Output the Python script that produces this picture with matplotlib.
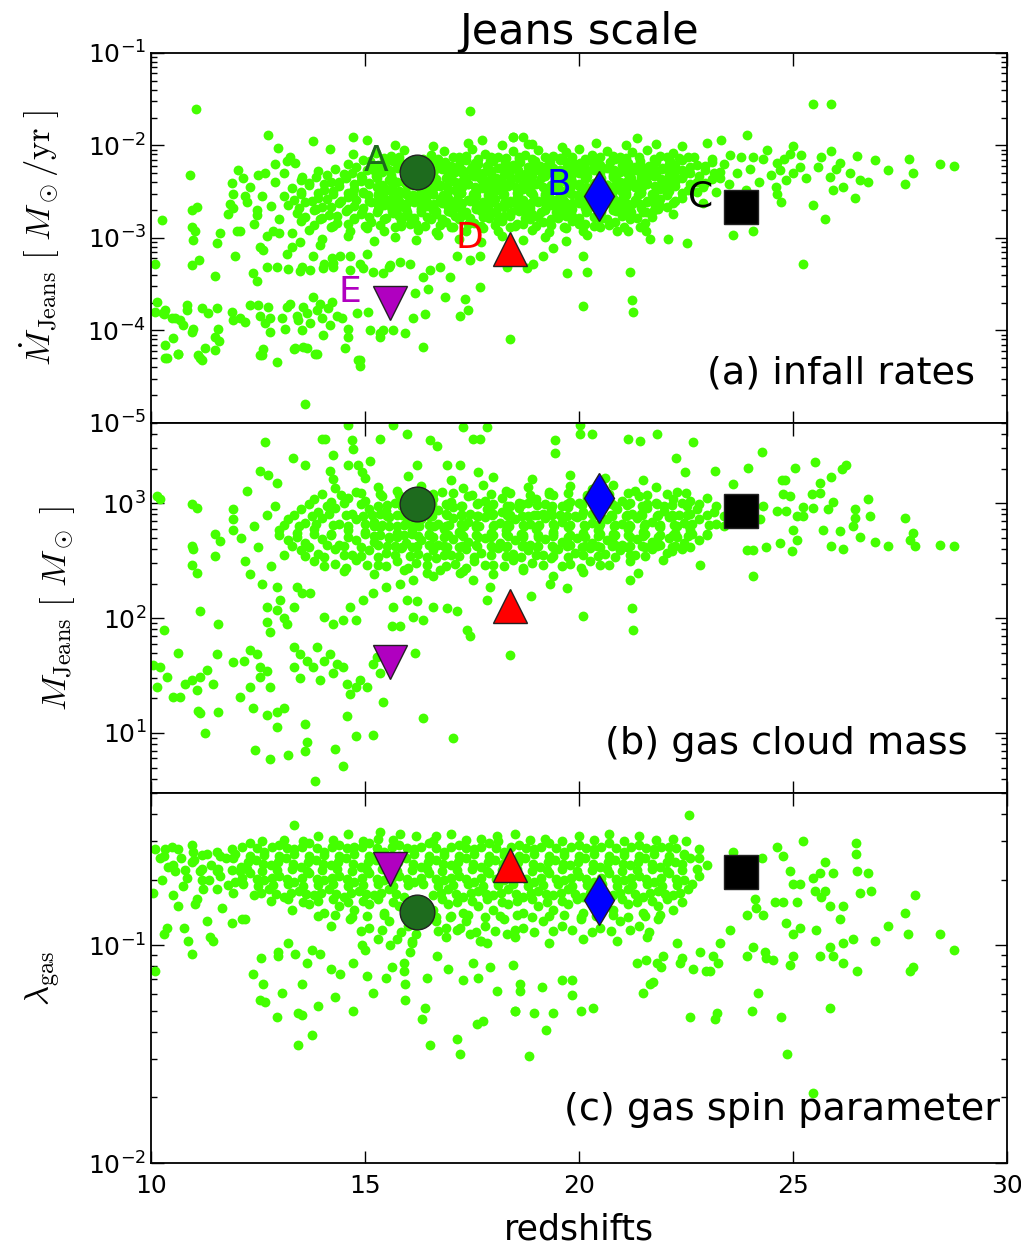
import numpy as np
import matplotlib
matplotlib.use("Agg")
import matplotlib.pyplot as plt
from matplotlib.ticker import NullFormatter, LogLocator

plt.rcParams['mathtext.fontset'] = 'cm'
plt.rcParams['font.family'] = ['DejaVu Sans']

# (redshift, log10 Mdot_Jeans [Msun/yr]) for every halo
infall = [
    (11.05, -1.61), (12.74, -1.89), (12.97, -2.03), (13.79, -1.95), (14.17, -2.04), (14.73, -1.91),
    (15.04, -1.94), (14.71, -2.09), (17.45, -1.63), (17.73, -1.94), (18.47, -1.91), (13.25, -2.12),
    (13.36, -2.19), (13.17, -2.17), (13.52, -2.34), (12.02, -2.27), (10.91, -2.32), (11.88, -2.41),
    (11.92, -2.52), (12.50, -2.32), (12.66, -2.30), (11.85, -2.63), (11.92, -2.68), (11.80, -2.74),
    (12.24, -2.61), (12.47, -2.70), (12.47, -2.75), (10.95, -2.70), (11.07, -2.66), (10.25, -2.81),
    (10.95, -2.88), (11.03, -2.92), (10.99, -3.02), (10.95, -3.29), (11.13, -3.24), (10.09, -3.28),
    (11.50, -3.41), (11.61, -2.95), (11.53, -3.05), (12.00, -2.92), (12.08, -2.92), (11.96, -3.19),
    (12.39, -3.38), (12.47, -3.46), (12.55, -3.10), (12.62, -3.13), (12.71, -3.31), (12.94, -3.31),
    (12.86, -2.92), (12.98, -2.95), (13.17, -3.17), (13.29, -3.10), (13.48, -3.04), (13.52, -3.31),
    (13.71, -3.35), (13.79, -3.20), (13.95, -3.08), (14.03, -3.28), (14.22, -3.22), (14.26, -3.31),
    (14.42, -3.20), (13.20, -3.34), (13.48, -3.36), (14.02, -3.32), (14.25, -3.27), (14.65, -3.35),
    (14.95, -3.32), (15.19, -3.37), (15.42, -3.38), (15.58, -3.29),
    (10.14, -3.69), (10.33, -3.78), (10.28, -3.81), (10.56, -3.87), (10.68, -3.89), (10.75, -3.94),
    (10.84, -3.73), (10.84, -3.78), (10.98, -3.98), (10.96, -4.02), (11.19, -3.76), (11.33, -3.81),
    (11.54, -3.76), (11.89, -3.80), (11.92, -3.89), (12.08, -3.87), (12.20, -3.91), (12.31, -3.73),
    (12.50, -3.73), (12.55, -3.84), (12.66, -3.92), (12.73, -3.75), (12.78, -3.87), (12.78, -4.02),
    (13.06, -3.87), (13.13, -3.98), (13.18, -3.75), (13.25, -3.71), (13.41, -3.84), (13.43, -3.89),
    (13.53, -4.00), (13.55, -3.75), (13.64, -3.81), (13.71, -3.92), (13.78, -3.64), (13.87, -3.78),
    (13.95, -3.71), (13.99, -3.87), (14.02, -4.05), (14.13, -3.76), (14.23, -3.69), (14.18, -3.94),
    (14.35, -3.84), (14.46, -3.87), (14.60, -3.98), (14.60, -4.07), (14.81, -3.81), (15.07, -3.80),
    (15.12, -4.00), (15.35, -4.07), (15.42, -4.00), (10.09, -3.80), (10.29, -3.82), (10.48, -3.87),
    (10.51, -4.08), (10.33, -4.16), (10.63, -4.25), (10.33, -4.30), (11.26, -4.19), (11.10, -4.27),
    (11.19, -4.32), (11.50, -4.07), (11.57, -3.98), (12.59, -4.27), (12.94, -4.34), (13.36, -4.19),
    (13.64, -4.19), (13.87, -4.25), (14.53, -4.19), (14.88, -4.32), (10.37, -4.30), (10.64, -4.25),
    (11.14, -4.30), (11.50, -4.21), (11.58, -4.11), (12.55, -4.27), (12.62, -4.20), (13.33, -4.20),
    (13.56, -4.18), (13.83, -4.25), (14.84, -4.32), (14.88, -4.38), (15.35, -4.03), (15.66, -4.00),
    (16.36, -4.18), (15.93, -4.03), (13.60, -4.80), (18.39, -4.09),
    (16.13, -3.87), (16.40, -3.82), (16.48, -3.55), (16.17, -3.60), (17.22, -3.84), (17.41, -3.78),
    (17.33, -3.66), (17.69, -3.53), (16.87, -3.64), (14.88, -3.28), (15.04, -3.17), (14.65, -3.20),
    (15.55, -3.31), (15.82, -3.26), (16.05, -3.28), (16.36, -3.42), (16.52, -3.35), (16.76, -3.31),
    (16.99, -3.42), (17.15, -3.20), (17.46, -3.24), (17.69, -3.20),
    (25.47, -1.55), (25.89, -1.55), (21.35, -1.92), (23.33, -1.94), (23.93, -1.89), (18.46, -1.91),
    (18.70, -1.91), (18.82, -1.98), (25.01, -2.01), (24.93, -2.09), (25.89, -2.06), (26.49, -2.11),
    (26.92, -2.16), (27.72, -2.15), (27.81, -2.30), (28.43, -2.20), (28.76, -2.22), (27.23, -2.27),
    (27.62, -2.42), (26.76, -2.40), (26.45, -2.57), (25.94, -2.48), (25.75, -2.79), (25.47, -2.64),
    (25.24, -3.28), (26.10, -2.19), (26.33, -2.30), (26.57, -2.37), (26.18, -2.45), (25.59, -2.23),
    (25.67, -2.12), (25.86, -2.34), (26.02, -2.25), (23.53, -2.10), (24.07, -2.12), (24.62, -2.19),
    (24.70, -2.27), (24.62, -2.52), (24.73, -2.61), (25.01, -2.30), (25.16, -2.23), (24.85, -2.37),
    (23.60, -2.97), (24.07, -2.93), (20.10, -3.19), (20.18, -3.37), (19.71, -3.38), (20.10, -3.74),
    (21.19, -3.37), (21.23, -3.67), (21.27, -3.80), (19.40, -3.11), (19.17, -3.20), (18.93, -3.28),
    (18.78, -3.33), (18.31, -3.31), (21.66, -3.01), (22.09, -3.01), (22.52, -3.05), (21.15, -2.92),
    (21.43, -2.88), (21.58, -2.93),
    (12.30, -2.45), (12.60, -2.55), (12.90, -2.40), (12.80, -2.65), (13.00, -2.80), (12.40, -2.85),
    (12.70, -2.98), (13.10, -2.30), (12.90, -2.20), (12.20, -2.55), (13.30, -2.95), (12.15, -2.35),
    # dense core
    (15.25, -2.08), (15.60, -2.11), (15.90, -2.05), (16.55, -2.10), (16.85, -2.06), (17.20, -2.12),
    (17.50, -2.04), (17.80, -2.09), (18.10, -2.12), (18.45, -2.06), (18.75, -2.10), (19.05, -2.05),
    (19.40, -2.11), (19.70, -2.07), (20.00, -2.04), (20.30, -2.10), (20.65, -2.06), (20.95, -2.12),
    (21.25, -2.07), (21.60, -2.05), (21.90, -2.11), (22.20, -2.08), (22.55, -2.13),
    (15.45, -2.14), (15.80, -2.12), (16.70, -2.15), (17.05, -2.13), (17.35, -2.11), (17.65, -2.15),
    (17.95, -2.13), (18.30, -2.14), (18.60, -2.12), (18.90, -2.15), (19.20, -2.13), (19.55, -2.14),
    (19.85, -2.12), (20.15, -2.15), (20.50, -2.13), (20.80, -2.11), (21.10, -2.14), (21.40, -2.12),
    (21.75, -2.15), (22.05, -2.13), (22.35, -2.14), (22.70, -2.12),
    (15.12, -2.17), (15.47, -2.18), (15.82, -2.175), (16.52, -2.17), (16.87, -2.18), (17.22, -2.17),
    (17.57, -2.185), (17.92, -2.17), (18.27, -2.18), (18.62, -2.175), (18.97, -2.17), (19.32, -2.18),
    (19.67, -2.17), (20.02, -2.185), (20.37, -2.17), (20.72, -2.18), (21.07, -2.175), (21.42, -2.17),
    (21.77, -2.18), (22.12, -2.17),
    (14.60, -2.20), (14.95, -2.16), (15.30, -2.21), (15.65, -2.17), (16.00, -2.20), (16.35, -2.15),
    (16.70, -2.19), (17.00, -2.22), (17.35, -2.16), (17.65, -2.20), (18.00, -2.17), (18.30, -2.21),
    (18.60, -2.15), (18.95, -2.19), (19.25, -2.22), (19.55, -2.16), (19.90, -2.20), (20.20, -2.17),
    (20.50, -2.21), (20.85, -2.15), (21.15, -2.19), (21.45, -2.22), (21.80, -2.17), (22.10, -2.20),
    (22.40, -2.16), (22.75, -2.21), (23.10, -2.18),
    (14.80, -2.23), (15.15, -2.22), (15.50, -2.24), (15.85, -2.21), (16.20, -2.23), (16.55, -2.22),
    (16.85, -2.24), (17.20, -2.21), (17.50, -2.23), (17.85, -2.22), (18.15, -2.24), (18.45, -2.21),
    (18.80, -2.23), (19.10, -2.22), (19.40, -2.24), (19.75, -2.21), (20.05, -2.23), (20.35, -2.22),
    (20.70, -2.24), (21.00, -2.21), (21.30, -2.23), (21.65, -2.22), (21.95, -2.24), (22.25, -2.21),
    (22.60, -2.23), (22.95, -2.22),
    (15.22, -2.265), (15.57, -2.27), (15.92, -2.26), (16.62, -2.265), (16.95, -2.27), (17.27, -2.26),
    (17.60, -2.265), (17.92, -2.27), (18.25, -2.26), (18.57, -2.265), (18.90, -2.27), (19.22, -2.26),
    (19.55, -2.265), (19.87, -2.27), (20.20, -2.26), (20.50, -2.265), (20.82, -2.27), (21.15, -2.26),
    (21.45, -2.265), (21.77, -2.27), (22.10, -2.26), (22.42, -2.265),
    (13.90, -2.28), (14.30, -2.25), (14.70, -2.30), (15.05, -2.26), (15.40, -2.29), (15.75, -2.24),
    (16.10, -2.28), (16.45, -2.31), (16.80, -2.25), (17.10, -2.29), (17.45, -2.26), (17.75, -2.30),
    (18.10, -2.24), (18.40, -2.28), (18.75, -2.31), (19.05, -2.26), (19.35, -2.29), (19.70, -2.25),
    (20.00, -2.30), (20.35, -2.27), (20.65, -2.24), (20.95, -2.29), (21.30, -2.26), (21.60, -2.31),
    (21.95, -2.25), (22.25, -2.28), (22.60, -2.30), (22.95, -2.26), (23.30, -2.29),
    (14.10, -2.32), (14.50, -2.31), (14.90, -2.33), (15.25, -2.30), (15.60, -2.32), (15.95, -2.31),
    (16.30, -2.33), (16.60, -2.30), (16.95, -2.32), (17.30, -2.31), (17.60, -2.33), (17.95, -2.30),
    (18.25, -2.32), (18.60, -2.31), (18.90, -2.33), (19.20, -2.30), (19.55, -2.32), (19.85, -2.31),
    (20.20, -2.33), (20.50, -2.30), (20.80, -2.32), (21.15, -2.31), (21.45, -2.33), (21.80, -2.30),
    (22.10, -2.32), (22.45, -2.31), (22.80, -2.33), (23.15, -2.30),
    (14.92, -2.355), (15.27, -2.35), (15.62, -2.36), (15.97, -2.355), (16.32, -2.35), (16.67, -2.36),
    (17.02, -2.355), (17.37, -2.35), (17.72, -2.36), (18.07, -2.355), (18.42, -2.35), (18.77, -2.36),
    (19.12, -2.355), (19.47, -2.35), (19.82, -2.36), (20.17, -2.355), (20.52, -2.35), (20.87, -2.36),
    (21.22, -2.355), (21.57, -2.35), (21.92, -2.36), (22.27, -2.355),
    (13.50, -2.37), (13.85, -2.34), (14.20, -2.39), (14.55, -2.35), (14.90, -2.38), (15.25, -2.33),
    (15.55, -2.37), (15.90, -2.40), (16.25, -2.34), (16.60, -2.38), (16.90, -2.35), (17.25, -2.39),
    (17.55, -2.33), (17.90, -2.37), (18.20, -2.40), (18.55, -2.35), (18.85, -2.38), (19.20, -2.33),
    (19.50, -2.37), (19.85, -2.40), (20.15, -2.35), (20.50, -2.38), (20.80, -2.34), (21.10, -2.39),
    (21.45, -2.36), (21.75, -2.33), (22.10, -2.38), (22.40, -2.35), (22.75, -2.39), (23.10, -2.36),
    (13.70, -2.41), (14.05, -2.42), (14.40, -2.40), (14.75, -2.42), (15.10, -2.41), (15.40, -2.43),
    (15.75, -2.40), (16.10, -2.42), (16.40, -2.41), (16.75, -2.43), (17.10, -2.40), (17.40, -2.42),
    (17.75, -2.41), (18.05, -2.43), (18.40, -2.40), (18.70, -2.42), (19.05, -2.41), (19.35, -2.43),
    (19.70, -2.40), (20.00, -2.42), (20.35, -2.41), (20.65, -2.43), (20.95, -2.40), (21.30, -2.42),
    (21.60, -2.41), (21.95, -2.43), (22.25, -2.40), (22.60, -2.42), (22.95, -2.41),
    (15.27, -2.445), (15.62, -2.45), (15.97, -2.44), (16.27, -2.445), (16.62, -2.45), (16.92, -2.44),
    (17.27, -2.445), (17.57, -2.45), (17.92, -2.44), (18.22, -2.445), (18.52, -2.45), (18.87, -2.44),
    (19.17, -2.445), (19.52, -2.45), (19.82, -2.44), (20.17, -2.445), (20.47, -2.45), (20.82, -2.44),
    (21.12, -2.445), (21.47, -2.45), (21.77, -2.44), (22.07, -2.445),
    (13.30, -2.46), (13.70, -2.43), (14.05, -2.48), (14.40, -2.44), (14.75, -2.47), (15.10, -2.42),
    (15.45, -2.46), (15.80, -2.49), (16.10, -2.43), (16.45, -2.47), (16.75, -2.44), (17.10, -2.48),
    (17.40, -2.42), (17.75, -2.46), (18.05, -2.49), (18.35, -2.44), (18.70, -2.47), (19.00, -2.42),
    (19.35, -2.46), (19.65, -2.49), (20.00, -2.44), (20.30, -2.47), (20.65, -2.43), (20.95, -2.48),
    (21.30, -2.45), (21.60, -2.42), (21.90, -2.47), (22.25, -2.44), (22.55, -2.48), (22.90, -2.45),
    (13.50, -2.50), (13.90, -2.51), (14.25, -2.49), (14.60, -2.51), (14.95, -2.50), (15.30, -2.52),
    (15.60, -2.49), (15.95, -2.51), (16.30, -2.50), (16.60, -2.52), (16.95, -2.49), (17.25, -2.51),
    (17.60, -2.50), (17.90, -2.52), (18.20, -2.49), (18.55, -2.51), (18.85, -2.50), (19.20, -2.52),
    (19.50, -2.49), (19.80, -2.51), (20.15, -2.50), (20.45, -2.52), (20.80, -2.49), (21.10, -2.51),
    (21.45, -2.50), (21.75, -2.52), (22.10, -2.49), (22.40, -2.51), (22.75, -2.50),
    (14.72, -2.535), (15.07, -2.54), (15.42, -2.53), (15.77, -2.535), (16.12, -2.54), (16.47, -2.53),
    (16.82, -2.535), (17.17, -2.54), (17.52, -2.53), (17.87, -2.535), (18.22, -2.54), (18.57, -2.53),
    (18.92, -2.535), (19.27, -2.54), (19.62, -2.53), (19.97, -2.535), (20.32, -2.54), (20.67, -2.53),
    (21.02, -2.535), (21.37, -2.54), (21.72, -2.53), (22.07, -2.535),
    (13.10, -2.55), (13.50, -2.52), (13.90, -2.57), (14.25, -2.53), (14.60, -2.56), (14.95, -2.51),
    (15.30, -2.55), (15.60, -2.58), (15.95, -2.52), (16.30, -2.56), (16.60, -2.53), (16.95, -2.57),
    (17.25, -2.51), (17.60, -2.55), (17.90, -2.58), (18.25, -2.53), (18.55, -2.56), (18.90, -2.51),
    (19.20, -2.55), (19.50, -2.58), (19.85, -2.53), (20.15, -2.56), (20.45, -2.52), (20.80, -2.57),
    (21.10, -2.54), (21.45, -2.51), (21.75, -2.56), (22.05, -2.53), (22.40, -2.57),
    (13.35, -2.59), (13.75, -2.60), (14.10, -2.58), (14.45, -2.60), (14.80, -2.59), (15.15, -2.61),
    (15.45, -2.58), (15.80, -2.60), (16.10, -2.59), (16.45, -2.61), (16.75, -2.58), (17.10, -2.60),
    (17.40, -2.59), (17.75, -2.61), (18.05, -2.58), (18.40, -2.60), (18.70, -2.59), (19.05, -2.61),
    (19.35, -2.58), (19.65, -2.60), (20.00, -2.59), (20.30, -2.61), (20.65, -2.58), (20.95, -2.60),
    (21.30, -2.59), (21.60, -2.61), (21.90, -2.58), (22.25, -2.60),
    (15.27, -2.625), (15.62, -2.63), (15.97, -2.62), (16.30, -2.625), (16.62, -2.63), (16.95, -2.62),
    (17.27, -2.625), (17.60, -2.63), (17.92, -2.62), (18.25, -2.625), (18.55, -2.63), (18.87, -2.62),
    (19.20, -2.625), (19.52, -2.63), (19.85, -2.62), (20.15, -2.625), (20.47, -2.63), (20.80, -2.62),
    (21.10, -2.625), (21.42, -2.63), (21.75, -2.62),
    (13.20, -2.64), (13.60, -2.61), (14.00, -2.66), (14.40, -2.62), (14.75, -2.65), (15.10, -2.60),
    (15.45, -2.64), (15.80, -2.67), (16.15, -2.61), (16.45, -2.65), (16.80, -2.62), (17.10, -2.66),
    (17.45, -2.60), (17.75, -2.64), (18.10, -2.67), (18.40, -2.62), (18.70, -2.65), (19.05, -2.60),
    (19.35, -2.64), (19.70, -2.67), (20.00, -2.62), (20.30, -2.65), (20.65, -2.61), (20.95, -2.66),
    (21.25, -2.63), (21.60, -2.60), (21.90, -2.65), (22.20, -2.62),
    (13.45, -2.68), (13.85, -2.69), (14.20, -2.67), (14.60, -2.69), (14.95, -2.68), (15.30, -2.70),
    (15.60, -2.67), (15.95, -2.69), (16.30, -2.68), (16.60, -2.70), (16.95, -2.67), (17.25, -2.69),
    (17.60, -2.68), (17.90, -2.70), (18.25, -2.67), (18.55, -2.69), (18.85, -2.68), (19.20, -2.70),
    (19.50, -2.67), (19.85, -2.69), (20.15, -2.68), (20.50, -2.70), (20.80, -2.67), (21.10, -2.69),
    (21.45, -2.68), (21.75, -2.70), (22.05, -2.67),
    (14.92, -2.715), (15.27, -2.72), (15.62, -2.71), (15.97, -2.715), (16.32, -2.72), (16.67, -2.71),
    (17.02, -2.715), (17.37, -2.72), (17.72, -2.71), (18.07, -2.715), (18.42, -2.72), (18.77, -2.71),
    (19.12, -2.715), (19.47, -2.72), (19.82, -2.71), (20.17, -2.715), (20.52, -2.72), (20.87, -2.71),
    (21.22, -2.715), (21.57, -2.72),
    (13.40, -2.73), (13.80, -2.70), (14.15, -2.75), (14.55, -2.71), (14.90, -2.74), (15.30, -2.69),
    (15.65, -2.73), (16.00, -2.76), (16.30, -2.70), (16.65, -2.74), (16.95, -2.71), (17.30, -2.75),
    (17.60, -2.69), (17.95, -2.73), (18.25, -2.76), (18.60, -2.71), (18.90, -2.74), (19.20, -2.69),
    (19.55, -2.73), (19.85, -2.76), (20.20, -2.71), (20.50, -2.74), (20.80, -2.70), (21.15, -2.75),
    (21.50, -2.72), (21.85, -2.69), (22.20, -2.74),
    (13.60, -2.77), (14.00, -2.78), (14.35, -2.76), (14.75, -2.78), (15.10, -2.77), (15.45, -2.79),
    (15.80, -2.76), (16.15, -2.78), (16.45, -2.77), (16.80, -2.79), (17.10, -2.76), (17.45, -2.78),
    (17.75, -2.77), (18.10, -2.79), (18.40, -2.76), (18.75, -2.78), (19.05, -2.77), (19.35, -2.79),
    (19.70, -2.76), (20.00, -2.78), (20.35, -2.77), (20.65, -2.79), (21.00, -2.76), (21.35, -2.78),
    (21.70, -2.77),
    (13.50, -2.82), (13.95, -2.79), (14.35, -2.84), (14.75, -2.80), (15.15, -2.83), (15.50, -2.78),
    (15.85, -2.82), (16.20, -2.85), (16.55, -2.79), (16.90, -2.83), (17.20, -2.80), (17.55, -2.84),
    (17.90, -2.78), (18.20, -2.82), (18.55, -2.85), (18.85, -2.80), (19.15, -2.83), (19.50, -2.78),
    (19.85, -2.82), (20.15, -2.85), (20.50, -2.80), (20.85, -2.83), (21.20, -2.79), (21.55, -2.84),
    (13.80, -2.86), (14.25, -2.87), (14.60, -2.85), (15.00, -2.87), (15.35, -2.86), (15.70, -2.88),
    (16.05, -2.85), (16.40, -2.87), (16.75, -2.86), (17.05, -2.88), (17.40, -2.85), (17.70, -2.87),
    (18.05, -2.86), (18.40, -2.88), (18.70, -2.85), (19.00, -2.87), (19.35, -2.86), (19.65, -2.88),
    (20.00, -2.85), (20.35, -2.87), (20.70, -2.86), (21.05, -2.88),
    (13.70, -2.91), (14.20, -2.88), (14.65, -2.93), (15.05, -2.89), (15.45, -2.92), (15.85, -2.87),
    (16.25, -2.91), (16.65, -2.94), (17.00, -2.88), (17.35, -2.92), (17.75, -2.89), (18.10, -2.93),
    (18.50, -2.87), (18.90, -2.91), (19.30, -2.94), (19.70, -2.89), (20.10, -2.92), (20.50, -2.88),
    (20.90, -2.93),
    (14.00, -3.01), (14.60, -2.98), (15.20, -3.03), (15.70, -2.99), (16.20, -3.02), (16.70, -2.97),
    (17.20, -3.01), (17.70, -3.04), (18.20, -2.98), (18.70, -3.02), (19.20, -2.99), (19.70, -3.03),
    (20.20, -2.97),
    (15.70, -1.99), (16.60, -2.01), (17.40, -1.97), (18.20, -2.00), (18.90, -1.98), (19.60, -2.02),
    (20.40, -1.97), (21.10, -2.00), (21.80, -1.98), (22.40, -2.01), (23.00, -1.97),
    (23.40, -2.20), (23.70, -2.30), (24.00, -2.25), (24.30, -2.15), (24.50, -2.32), (23.50, -2.42),
    (23.90, -2.48), (24.20, -2.40), (24.60, -2.45), (23.20, -2.50), (22.90, -2.62), (23.30, -2.35),
    (24.80, -2.15), (25.20, -2.10), (25.30, -2.35), (24.40, -2.05), (23.80, -2.12), (23.10, -2.15),
]

# (redshift, log10 M_Jeans [Msun])
mass = [
    (10.13, 3.06), (10.21, 3.04), (10.95, 2.99), (11.07, 2.96), (12.24, 3.11), (12.66, 3.53),
    (13.99, 3.56), (14.07, 3.56), (13.31, 3.39), (13.60, 3.33), (12.55, 3.28), (12.74, 3.25),
    (12.94, 3.18), (14.26, 3.42), (14.18, 3.28), (14.26, 3.21), (14.69, 3.55), (14.73, 3.47),
    (14.61, 3.33), (14.84, 3.33), (14.92, 3.27), (15.12, 3.37), (15.35, 3.56), (15.66, 3.68),
    (15.97, 3.60), (16.21, 3.33), (16.52, 3.55), (16.68, 3.50), (17.30, 3.66), (17.53, 3.56),
    (17.69, 3.56), (17.84, 3.66), (14.61, 3.68), (16.91, 3.33), (17.22, 3.33), (17.65, 3.27),
    (10.95, 2.63), (10.99, 2.60), (10.95, 2.46), (11.07, 2.39), (11.50, 2.54), (11.61, 2.67),
    (11.50, 2.73), (11.92, 2.77), (11.92, 2.86), (11.92, 2.95), (11.14, 2.06), (10.29, 1.90),
    (11.57, 1.95), (10.64, 1.70), (10.05, 1.59), (10.21, 1.57), (10.37, 1.49), (10.13, 1.40),
    (10.52, 1.31), (10.68, 1.31), (10.79, 1.43), (10.95, 1.46), (11.14, 1.49), (11.07, 1.37),
    (11.30, 1.55), (11.45, 1.43), (11.53, 1.69), (11.10, 1.19), (11.14, 1.17), (11.57, 1.18),
    (11.26, 1.00), (11.92, 1.62), (12.16, 1.63), (12.31, 1.72), (12.47, 1.69), (12.55, 1.57),
    (12.70, 1.54), (12.55, 1.49), (12.78, 1.40), (12.31, 1.40), (12.08, 1.31), (12.39, 1.22),
    (12.70, 1.16), (12.94, 1.18), (13.10, 1.22), (12.94, 1.05), (12.43, 0.85), (12.78, 0.77),
    (13.21, 0.81), (13.60, 0.84), (13.83, 0.58), (14.30, 0.86), (14.49, 0.71), (14.80, 0.97),
    (15.19, 0.98), (16.36, 1.13), (17.06, 0.96), (15.43, 1.27), (14.57, 1.15), (13.60, 1.08),
    (13.64, 0.92), (12.70, 1.97), (12.78, 1.88), (12.94, 2.07), (13.10, 2.00), (13.17, 1.95),
    (13.33, 2.10), (13.52, 2.22), (13.41, 2.27), (13.71, 2.22), (12.94, 2.27), (13.02, 2.16),
    (12.70, 2.10), (13.33, 1.75), (13.48, 1.69), (13.64, 1.63), (13.79, 1.57), (13.33, 1.57),
    (13.48, 1.48), (13.87, 1.75), (14.03, 1.63), (14.18, 1.69), (14.26, 1.52), (13.95, 1.46),
    (14.34, 1.60), (14.49, 1.57), (14.57, 1.43), (14.65, 1.34), (14.80, 1.40), (14.88, 1.46),
    (15.04, 1.40), (15.19, 1.60), (15.27, 1.66), (15.35, 1.52), (15.43, 1.69), (15.62, 1.93),
    (15.81, 1.93), (15.66, 2.10), (15.97, 2.16), (16.21, 2.15), (16.13, 2.01), (16.36, 1.98),
    (16.60, 2.10), (16.91, 2.09), (17.15, 2.06), (17.38, 1.90), (17.46, 1.84), (17.84, 2.16),
    (17.92, 2.27), (17.53, 2.33), (17.22, 2.39), (16.75, 2.42), (16.44, 2.39), (16.13, 2.33),
    (15.81, 2.30), (15.50, 2.27), (15.19, 2.22), (14.96, 2.16), (14.65, 2.10), (14.80, 1.98),
    (14.49, 1.98), (14.26, 1.95), (14.03, 2.01), (18.39, 1.68), (16.17, 1.70),
    (20.02, 3.68), (20.02, 3.60), (20.30, 3.60), (19.44, 3.55), (19.44, 3.44), (21.15, 3.56),
    (21.43, 3.54), (21.83, 3.60), (22.66, 3.53), (22.28, 3.39), (22.48, 3.27), (23.18, 3.28),
    (23.96, 3.31), (24.27, 3.45), (25.05, 3.31), (25.51, 3.36), (25.90, 3.23), (26.25, 3.33),
    (26.14, 3.30), (24.74, 3.20), (24.81, 3.20), (25.63, 3.18), (24.77, 3.08), (24.93, 3.06),
    (23.61, 3.17), (26.76, 3.04), (25.44, 3.08), (25.63, 3.09), (25.94, 3.01), (25.47, 2.96),
    (25.83, 2.95), (26.45, 2.95), (26.45, 2.87), (26.41, 2.80), (26.80, 2.89), (27.62, 2.87),
    (27.81, 2.74), (27.73, 2.68), (27.85, 2.63), (27.23, 2.63), (26.92, 2.66), (26.57, 2.71),
    (26.10, 2.76), (26.18, 2.60), (25.90, 2.63), (25.71, 2.77), (25.24, 2.89), (25.24, 2.97),
    (24.62, 2.93), (24.85, 2.93), (25.09, 2.89), (25.01, 2.77), (25.09, 2.68), (24.97, 2.58),
    (24.70, 2.65), (24.38, 2.62), (24.07, 2.59), (23.92, 2.59), (24.31, 2.98), (24.23, 2.86),
    (28.43, 2.64), (28.76, 2.63), (24.06, 2.37), (22.83, 2.46), (21.39, 2.39), (21.19, 2.33),
    (21.97, 2.51), (22.17, 2.58), (19.71, 2.26), (19.32, 2.30), (18.89, 2.19), (20.10, 2.02),
    (21.23, 2.09), (21.27, 1.90),
    (12.20, 2.50), (12.50, 2.62), (12.80, 2.45), (12.40, 2.80), (12.70, 2.90), (12.90, 2.98),
    (12.30, 2.38), (12.60, 2.30), (13.10, 2.55), (12.10, 2.70),
    # dense core
    (14.30, 3.13), (14.80, 3.10), (15.30, 3.14), (15.75, 3.11), (16.30, 3.15), (16.80, 3.10),
    (17.30, 3.13), (17.75, 3.16), (18.30, 3.11), (18.80, 3.14), (19.30, 3.10), (19.80, 3.15),
    (20.30, 3.12), (20.80, 3.16), (21.30, 3.11), (21.80, 3.14), (22.30, 3.10),
    (14.00, 3.08), (14.45, 3.07), (14.90, 3.09), (15.35, 3.08), (15.80, 3.07), (16.60, 3.08),
    (17.05, 3.09), (17.50, 3.07), (17.95, 3.08), (18.40, 3.09), (18.85, 3.07), (19.30, 3.08),
    (19.75, 3.09), (20.20, 3.07), (20.70, 3.08), (21.15, 3.09), (21.60, 3.07), (22.05, 3.08),
    (22.50, 3.09),
    (13.80, 3.04), (14.20, 3.01), (14.60, 3.05), (15.00, 3.02), (15.40, 3.06), (15.80, 3.00),
    (16.60, 3.04), (17.00, 3.01), (17.40, 3.06), (17.80, 3.02), (18.20, 3.05), (18.60, 3.00),
    (19.00, 3.04), (19.40, 3.07), (19.80, 3.01), (20.20, 3.05), (21.00, 3.02), (21.40, 3.06),
    (21.80, 3.00), (22.20, 3.04), (22.60, 3.02), (23.00, 3.05),
    (13.70, 2.99), (14.10, 2.98), (14.50, 3.00), (14.90, 2.99), (15.30, 2.98), (15.70, 3.00),
    (16.90, 2.99), (17.25, 2.98), (17.65, 3.00), (18.00, 2.99), (18.40, 2.98), (18.80, 3.00),
    (19.20, 2.99), (19.60, 2.98), (20.00, 3.00), (20.50, 2.99), (20.85, 2.98), (21.20, 3.00),
    (21.60, 2.99), (22.00, 2.98), (22.40, 3.00), (22.80, 2.99), (23.20, 2.98),
    (15.52, 2.985), (15.87, 2.98), (16.57, 2.99), (16.92, 2.985), (17.27, 2.98), (17.62, 2.99),
    (17.97, 2.985), (18.32, 2.98), (18.67, 2.99), (19.02, 2.985), (19.37, 2.98), (19.72, 2.99),
    (20.07, 2.985), (20.42, 2.98), (20.77, 2.99), (21.12, 2.985), (21.47, 2.98), (21.82, 2.99),
    (22.17, 2.985), (22.52, 2.98),
    (13.50, 2.95), (13.90, 2.92), (14.30, 2.96), (14.70, 2.91), (15.10, 2.95), (15.50, 2.93),
    (15.90, 2.97), (16.70, 2.94), (17.05, 2.97), (17.45, 2.91), (17.85, 2.95), (18.20, 2.92),
    (18.60, 2.96), (18.95, 2.90), (19.35, 2.94), (19.75, 2.97), (20.10, 2.92), (20.90, 2.95),
    (21.25, 2.91), (21.60, 2.96), (22.00, 2.93), (22.35, 2.90), (22.75, 2.95), (23.15, 2.92),
    (23.50, 2.96),
    (13.35, 2.90), (13.75, 2.89), (14.15, 2.91), (14.55, 2.90), (14.95, 2.89), (15.35, 2.91),
    (15.75, 2.90), (16.50, 2.89), (16.90, 2.91), (17.25, 2.90), (17.65, 2.89), (18.00, 2.91),
    (18.40, 2.90), (18.80, 2.89), (19.15, 2.91), (19.55, 2.90), (19.90, 2.89), (20.30, 2.91),
    (20.75, 2.90), (21.10, 2.89), (21.45, 2.91), (21.85, 2.90), (22.20, 2.89), (22.60, 2.91),
    (23.00, 2.90), (23.40, 2.89),
    (15.17, 2.895), (15.52, 2.89), (15.87, 2.90), (16.22, 2.895), (16.57, 2.89), (16.92, 2.90),
    (17.27, 2.895), (17.62, 2.89), (17.97, 2.90), (18.32, 2.895), (18.67, 2.89), (19.02, 2.90),
    (19.37, 2.895), (19.72, 2.89), (20.07, 2.90), (20.42, 2.895), (20.77, 2.89), (21.12, 2.90),
    (21.47, 2.895), (21.82, 2.89), (22.17, 2.90), (22.52, 2.895),
    (13.20, 2.86), (13.60, 2.83), (14.00, 2.87), (14.40, 2.82), (14.80, 2.86), (15.20, 2.84),
    (15.55, 2.88), (15.95, 2.83), (16.30, 2.86), (16.70, 2.82), (17.05, 2.87), (17.40, 2.84),
    (17.80, 2.88), (18.15, 2.83), (18.50, 2.86), (18.85, 2.82), (19.20, 2.87), (19.60, 2.84),
    (19.95, 2.88), (20.30, 2.83), (20.65, 2.86), (21.00, 2.82), (21.35, 2.87), (21.70, 2.84),
    (22.10, 2.88), (22.45, 2.83), (22.80, 2.86), (23.20, 2.82),
    (13.10, 2.81), (13.45, 2.80), (13.85, 2.82), (14.25, 2.81), (14.60, 2.80), (15.00, 2.82),
    (15.40, 2.81), (15.75, 2.80), (16.15, 2.82), (16.50, 2.81), (16.90, 2.80), (17.25, 2.82),
    (17.60, 2.81), (18.00, 2.80), (18.35, 2.82), (18.70, 2.81), (19.05, 2.80), (19.40, 2.82),
    (19.80, 2.81), (20.15, 2.80), (20.50, 2.82), (20.85, 2.81), (21.20, 2.80), (21.55, 2.82),
    (21.90, 2.81), (22.30, 2.80), (22.65, 2.82), (23.05, 2.81), (23.40, 2.80),
    (15.22, 2.805), (15.57, 2.80), (15.92, 2.81), (16.27, 2.805), (16.62, 2.80), (16.97, 2.81),
    (17.32, 2.805), (17.67, 2.80), (18.02, 2.81), (18.37, 2.805), (18.72, 2.80), (19.07, 2.81),
    (19.42, 2.805), (19.77, 2.80), (20.12, 2.81), (20.47, 2.805), (20.82, 2.80), (21.17, 2.81),
    (21.52, 2.805), (21.87, 2.80), (22.22, 2.81), (22.57, 2.805),
    (13.00, 2.77), (13.40, 2.74), (13.80, 2.78), (14.20, 2.73), (14.60, 2.77), (15.00, 2.75),
    (15.35, 2.79), (15.75, 2.74), (16.10, 2.77), (16.50, 2.73), (16.85, 2.78), (17.20, 2.75),
    (17.60, 2.79), (17.95, 2.74), (18.30, 2.77), (18.65, 2.73), (19.00, 2.78), (19.40, 2.75),
    (19.75, 2.79), (20.10, 2.74), (20.45, 2.77), (20.80, 2.73), (21.15, 2.78), (21.50, 2.75),
    (21.90, 2.79), (22.25, 2.74), (22.60, 2.77), (23.00, 2.73),
    (13.00, 2.72), (13.40, 2.71), (13.80, 2.73), (14.20, 2.72), (14.60, 2.71), (15.00, 2.73),
    (15.35, 2.72), (15.75, 2.71), (16.10, 2.73), (16.50, 2.72), (16.85, 2.71), (17.25, 2.73),
    (17.60, 2.72), (17.95, 2.71), (18.30, 2.73), (18.70, 2.72), (19.05, 2.71), (19.40, 2.73),
    (19.80, 2.72), (20.15, 2.71), (20.50, 2.73), (20.85, 2.72), (21.20, 2.71), (21.55, 2.73),
    (21.90, 2.72), (22.30, 2.71), (22.65, 2.73), (23.00, 2.72),
    (15.20, 2.715), (15.55, 2.71), (15.90, 2.72), (16.25, 2.715), (16.60, 2.71), (16.95, 2.72),
    (17.30, 2.715), (17.65, 2.71), (18.00, 2.72), (18.35, 2.715), (18.70, 2.71), (19.05, 2.72),
    (19.40, 2.715), (19.75, 2.71), (20.10, 2.72), (20.45, 2.715), (20.80, 2.71), (21.15, 2.72),
    (21.50, 2.715), (21.85, 2.71), (22.20, 2.72), (22.55, 2.715),
    (13.20, 2.68), (13.60, 2.65), (14.00, 2.69), (14.40, 2.64), (14.80, 2.68), (15.20, 2.66),
    (15.55, 2.70), (15.95, 2.65), (16.30, 2.68), (16.70, 2.64), (17.05, 2.69), (17.40, 2.66),
    (17.80, 2.70), (18.15, 2.65), (18.50, 2.68), (18.85, 2.64), (19.20, 2.69), (19.60, 2.66),
    (19.95, 2.70), (20.30, 2.65), (20.65, 2.68), (21.00, 2.64), (21.35, 2.69), (21.70, 2.66),
    (22.10, 2.70), (22.45, 2.65), (22.80, 2.68),
    (13.30, 2.63), (13.70, 2.62), (14.10, 2.64), (14.50, 2.63), (14.90, 2.62), (15.30, 2.64),
    (15.70, 2.63), (16.10, 2.62), (16.50, 2.64), (16.85, 2.63), (17.20, 2.62), (17.60, 2.64),
    (17.95, 2.63), (18.30, 2.62), (18.70, 2.64), (19.05, 2.63), (19.40, 2.62), (19.80, 2.64),
    (20.15, 2.63), (20.50, 2.62), (20.85, 2.64), (21.20, 2.63), (21.55, 2.62), (21.90, 2.64),
    (22.25, 2.63), (22.60, 2.62),
    (15.52, 2.625), (15.87, 2.62), (16.22, 2.63), (16.57, 2.625), (16.92, 2.62), (17.27, 2.63),
    (17.62, 2.625), (17.97, 2.62), (18.32, 2.63), (18.67, 2.625), (19.02, 2.62), (19.37, 2.63),
    (19.72, 2.625), (20.07, 2.62), (20.42, 2.63), (20.77, 2.625), (21.12, 2.62), (21.47, 2.63),
    (21.82, 2.625), (22.17, 2.62),
    (13.50, 2.59), (13.90, 2.56), (14.30, 2.60), (14.70, 2.55), (15.10, 2.59), (15.50, 2.57),
    (15.85, 2.61), (16.25, 2.56), (16.60, 2.59), (17.00, 2.55), (17.35, 2.60), (17.70, 2.57),
    (18.10, 2.61), (18.45, 2.56), (18.80, 2.59), (19.15, 2.55), (19.50, 2.60), (19.90, 2.57),
    (20.25, 2.61), (20.60, 2.56), (20.95, 2.59), (21.30, 2.55), (21.70, 2.60), (22.05, 2.57),
    (22.40, 2.60),
    (13.60, 2.54), (14.05, 2.53), (14.50, 2.55), (14.90, 2.54), (15.30, 2.53), (15.70, 2.55),
    (16.05, 2.54), (16.45, 2.53), (16.85, 2.55), (17.20, 2.54), (17.55, 2.53), (17.95, 2.55),
    (18.30, 2.54), (18.65, 2.53), (19.00, 2.55), (19.40, 2.54), (19.75, 2.53), (20.10, 2.55),
    (20.45, 2.54), (20.85, 2.53), (21.20, 2.55), (21.55, 2.54),
    (13.80, 2.50), (14.30, 2.47), (14.80, 2.51), (15.30, 2.46), (15.75, 2.50), (16.20, 2.48),
    (16.65, 2.52), (17.10, 2.47), (17.55, 2.50), (18.00, 2.46), (18.45, 2.51), (18.90, 2.48),
    (19.35, 2.52), (19.80, 2.47), (20.25, 2.50), (20.70, 2.46), (21.20, 2.50),
    (14.05, 2.45), (14.55, 2.44), (15.05, 2.46), (15.50, 2.45), (16.00, 2.44), (16.45, 2.46),
    (16.90, 2.45), (17.35, 2.44), (17.80, 2.46), (18.25, 2.45), (18.70, 2.44), (19.15, 2.46),
    (19.60, 2.45), (20.05, 2.44), (20.50, 2.46),
    (14.50, 2.41), (15.20, 2.38), (15.90, 2.42), (16.60, 2.37), (17.30, 2.41), (18.00, 2.38),
    (18.70, 2.42), (19.40, 2.37), (20.10, 2.40),
    (15.00, 3.22), (16.00, 3.24), (17.00, 3.20), (18.00, 3.23), (18.90, 3.21), (19.80, 3.25),
    (20.60, 3.22), (21.50, 3.20),
]

# (redshift, log10 lambda_gas)
spin = [
    (13.33, -0.45), (15.35, -0.48), (15.82, -0.49), (16.67, -0.50), (18.08, -0.50),
    (10.09, -0.56), (10.33, -0.56), (10.29, -0.59), (10.64, -0.56), (10.95, -0.54), (10.99, -0.57),
    (10.05, -0.76), (10.52, -0.63), (10.56, -0.66), (10.83, -0.69), (10.95, -0.62), (11.14, -0.66),
    (11.22, -0.74), (11.07, -0.79), (11.03, -0.81), (10.64, -0.82), (10.52, -0.77), (11.53, -0.57),
    (11.57, -0.65), (11.53, -0.74), (11.65, -0.83), (11.88, -0.90), (12.12, -0.88), (12.20, -0.88),
    (11.92, -0.76), (11.92, -0.60), (12.08, -0.66), (10.20, -0.60), (10.40, -0.64), (10.70, -0.60),
    (10.25, -0.70), (10.75, -0.73), (11.35, -0.70), (11.30, -0.58), (10.50, -0.55),
    (10.37, -0.92), (10.29, -0.95), (10.10, -1.12), (10.76, -0.92), (10.87, -0.98), (10.95, -1.04),
    (11.30, -0.89), (11.38, -0.96), (11.45, -0.98),
    (12.39, -1.13), (12.58, -1.06), (12.62, -1.18), (12.55, -1.25), (12.66, -1.26), (13.05, -1.22),
    (12.94, -1.33), (13.44, -1.31), (13.52, -1.18), (13.52, -1.32), (13.44, -1.46), (13.75, -1.41),
    (13.91, -1.28), (14.30, -1.24), (14.73, -1.30), (14.20, -1.11), (14.42, -1.13), (13.95, -1.04),
    (13.64, -1.08), (13.75, -1.02), (13.36, -1.04), (13.21, -0.99), (12.97, -1.03), (12.97, -1.05),
    (14.73, -1.08), (14.92, -1.00), (15.00, -1.02), (15.04, -1.14), (15.19, -1.22), (15.50, -1.15),
    (15.62, -1.10), (15.90, -1.08), (15.90, -1.12), (15.93, -1.18), (15.93, -1.25), (16.40, -1.29),
    (16.33, -1.34), (16.52, -1.46), (16.68, -1.05), (16.95, -1.11), (17.14, -1.43), (17.22, -1.50),
    (17.30, -1.16), (17.53, -1.08), (17.65, -1.15), (17.61, -1.36), (17.76, -1.35), (17.92, -1.10),
    (18.08, -1.21), (18.31, -0.95), (18.47, -1.09), (18.50, -1.30), (16.44, -1.15), (16.05, -1.03),
    (15.58, -1.00), (15.74, -0.97), (16.09, -0.98), (16.20, -0.95), (16.67, -0.89), (16.98, -0.87),
    (17.22, -0.92), (17.45, -0.95), (17.69, -0.98), (17.84, -0.99),
    (22.57, -0.40), (25.24, -0.52), (26.47, -0.53), (26.47, -0.58), (26.49, -0.66), (26.76, -0.67),
    (26.57, -0.76), (26.82, -0.75), (27.85, -0.77), (27.62, -0.85), (27.23, -0.91), (27.70, -0.95),
    (28.45, -0.95), (28.76, -1.02), (27.81, -1.10), (27.73, -1.12), (26.92, -0.98), (26.49, -1.12),
    (26.41, -0.97), (26.18, -0.99), (25.94, -1.05), (26.18, -1.08), (25.86, -1.01), (25.63, -1.05),
    (25.55, -0.93), (26.10, -0.88), (25.86, -0.82), (26.18, -0.82), (25.67, -0.78), (25.75, -0.75),
    (25.51, -0.75), (25.47, -0.69), (25.75, -0.62), (25.94, -0.67), (25.63, -0.67), (25.86, -1.29),
    (25.47, -1.68), (24.87, -1.50), (24.72, -1.33), (24.05, -1.30), (24.19, -1.22), (23.18, -1.34),
    (23.22, -1.31), (22.59, -1.33), (21.49, -1.22), (21.66, -1.18), (21.74, -1.17), (19.83, -1.23),
    (20.06, -1.30), (20.34, -1.29), (19.24, -1.39), (18.84, -1.51), (19.40, -1.31), (18.96, -1.31),
    (18.50, -1.30), (18.62, -1.21), (18.62, -1.18), (19.13, -1.19), (19.60, -1.16), (19.83, -1.16),
    (24.62, -0.55), (24.77, -0.59), (24.93, -0.66), (25.01, -0.72), (25.16, -0.72), (25.09, -0.80),
    (24.85, -0.90), (25.01, -0.95), (25.16, -0.92), (25.01, -1.05), (24.93, -1.09), (24.54, -1.07),
    (24.38, -1.06), (24.35, -1.03), (24.07, -1.01), (23.92, -1.05), (23.92, -0.86), (24.15, -0.83),
    (24.31, -0.86), (24.11, -0.79), (24.58, -0.80), (24.77, -0.80), (24.27, -0.60), (24.07, -0.67),
    (23.61, -0.57), (23.53, -0.93), (23.30, -0.99), (23.14, -1.05), (23.26, -1.08), (22.98, -1.12),
    (23.06, -1.12), (22.67, -1.11), (22.83, -1.03), (22.40, -1.06), (22.36, -1.08), (21.97, -1.05),
    (21.93, -1.10), (21.82, -1.08), (21.58, -1.07), (21.35, -1.08),
    # dense band
    (12.60, -0.52), (13.10, -0.515), (13.55, -0.52), (14.25, -0.515), (14.95, -0.52), (15.65, -0.515),
    (16.60, -0.52), (17.35, -0.515), (18.10, -0.52), (18.85, -0.515), (19.60, -0.52), (20.35, -0.515),
    (21.05, -0.52), (21.80, -0.515), (22.50, -0.52),
    (11.90, -0.56), (12.30, -0.53), (12.65, -0.57), (13.00, -0.54), (13.35, -0.56), (13.70, -0.53),
    (14.05, -0.57), (14.40, -0.54), (14.75, -0.55), (15.10, -0.53), (15.45, -0.57), (15.80, -0.54),
    (16.15, -0.56), (16.50, -0.53), (16.85, -0.57), (17.20, -0.54), (17.55, -0.56), (17.90, -0.53),
    (18.25, -0.57), (18.60, -0.54), (18.95, -0.56), (19.30, -0.53), (19.65, -0.57), (20.00, -0.54),
    (20.35, -0.56), (20.70, -0.53), (21.05, -0.57), (21.40, -0.54), (21.75, -0.56), (22.10, -0.55),
    (22.45, -0.58), (22.80, -0.56),
    (12.12, -0.55), (12.47, -0.555), (12.82, -0.55), (13.17, -0.555), (13.52, -0.55), (13.87, -0.555),
    (14.22, -0.55), (14.57, -0.555), (14.92, -0.55), (15.27, -0.555), (15.62, -0.55), (15.97, -0.555),
    (16.32, -0.55), (16.67, -0.555), (17.02, -0.55), (17.37, -0.555), (17.72, -0.55), (18.07, -0.555),
    (18.42, -0.55), (18.77, -0.555), (19.12, -0.55), (19.47, -0.555), (19.82, -0.55), (20.17, -0.555),
    (20.52, -0.55), (20.87, -0.555), (21.22, -0.55), (21.57, -0.555), (21.92, -0.55), (22.27, -0.555),
    (11.20, -0.585), (11.60, -0.59), (11.95, -0.58), (12.30, -0.59), (12.65, -0.585), (13.00, -0.59),
    (13.35, -0.58), (13.70, -0.59), (14.05, -0.585), (14.40, -0.59), (14.75, -0.58), (15.10, -0.59),
    (15.45, -0.585), (15.80, -0.59), (16.15, -0.58), (16.50, -0.59), (16.85, -0.585), (17.20, -0.59),
    (17.55, -0.58), (17.90, -0.59), (18.25, -0.585), (18.60, -0.59), (18.95, -0.58), (19.30, -0.59),
    (19.65, -0.585), (20.00, -0.59), (20.35, -0.58), (20.70, -0.59), (21.05, -0.585), (21.40, -0.59),
    (21.75, -0.58), (22.10, -0.59), (22.45, -0.585), (22.80, -0.60),
    (11.00, -0.61), (11.40, -0.63), (11.75, -0.60), (12.10, -0.64), (12.45, -0.61), (12.80, -0.63),
    (13.15, -0.60), (13.50, -0.64), (13.85, -0.61), (14.20, -0.63), (14.55, -0.60), (14.90, -0.64),
    (15.25, -0.61), (15.60, -0.63), (15.95, -0.60), (16.30, -0.64), (16.65, -0.61), (17.00, -0.63),
    (17.35, -0.60), (17.70, -0.64), (18.05, -0.61), (18.40, -0.63), (18.75, -0.60), (19.10, -0.64),
    (19.45, -0.61), (19.80, -0.63), (20.15, -0.60), (20.50, -0.64), (20.85, -0.61), (21.20, -0.63),
    (21.55, -0.60), (21.90, -0.64), (22.25, -0.62), (22.60, -0.60), (23.00, -0.63),
    (12.27, -0.62), (12.62, -0.625), (12.97, -0.62), (13.32, -0.625), (13.67, -0.62), (14.02, -0.625),
    (14.37, -0.62), (14.72, -0.625), (15.07, -0.62), (15.42, -0.625), (15.77, -0.62), (16.12, -0.625),
    (16.47, -0.62), (16.82, -0.625), (17.17, -0.62), (17.52, -0.625), (17.87, -0.62), (18.22, -0.625),
    (18.57, -0.62), (18.92, -0.625), (19.27, -0.62), (19.62, -0.625), (19.97, -0.62), (20.32, -0.625),
    (20.67, -0.62), (21.02, -0.625), (21.37, -0.62), (21.72, -0.625), (22.07, -0.62), (22.42, -0.625),
    (10.80, -0.655), (11.20, -0.65), (11.55, -0.66), (11.90, -0.655), (12.25, -0.65), (12.60, -0.66),
    (12.95, -0.655), (13.30, -0.65), (13.65, -0.66), (14.00, -0.655), (14.35, -0.65), (14.70, -0.66),
    (15.05, -0.655), (15.40, -0.65), (15.75, -0.66), (16.10, -0.655), (16.45, -0.65), (16.80, -0.66),
    (17.15, -0.655), (17.50, -0.65), (17.85, -0.66), (18.20, -0.655), (18.55, -0.65), (18.90, -0.66),
    (19.25, -0.655), (19.60, -0.65), (19.95, -0.66), (20.30, -0.655), (20.65, -0.65), (21.00, -0.66),
    (21.35, -0.655), (21.70, -0.65), (22.05, -0.66), (22.40, -0.655), (22.75, -0.65),
    (11.20, -0.70), (11.60, -0.68), (11.95, -0.71), (12.30, -0.67), (12.65, -0.70), (13.00, -0.68),
    (13.35, -0.71), (13.70, -0.67), (14.05, -0.70), (14.40, -0.68), (14.75, -0.71), (15.10, -0.67),
    (15.45, -0.70), (15.80, -0.68), (16.15, -0.71), (16.50, -0.67), (16.85, -0.70), (17.20, -0.68),
    (17.55, -0.71), (17.90, -0.67), (18.25, -0.70), (18.60, -0.68), (18.95, -0.71), (19.30, -0.67),
    (19.65, -0.70), (20.00, -0.68), (20.35, -0.71), (20.70, -0.67), (21.05, -0.70), (21.40, -0.68),
    (21.75, -0.71), (22.10, -0.67), (22.45, -0.70), (22.80, -0.68),
    (12.12, -0.69), (12.47, -0.695), (12.82, -0.69), (13.17, -0.695), (13.52, -0.69), (13.87, -0.695),
    (14.22, -0.69), (14.57, -0.695), (14.92, -0.69), (15.27, -0.695), (15.62, -0.69), (15.97, -0.695),
    (16.32, -0.69), (16.67, -0.695), (17.02, -0.69), (17.37, -0.695), (17.72, -0.69), (18.07, -0.695),
    (18.42, -0.69), (18.77, -0.695), (19.12, -0.69), (19.47, -0.695), (19.82, -0.69), (20.17, -0.695),
    (20.52, -0.69), (20.87, -0.695), (21.22, -0.69), (21.57, -0.695), (21.92, -0.69), (22.27, -0.695),
    (11.80, -0.725), (12.15, -0.72), (12.50, -0.73), (12.85, -0.725), (13.20, -0.72), (13.55, -0.73),
    (13.90, -0.725), (14.25, -0.72), (14.60, -0.73), (14.95, -0.725), (15.30, -0.72), (15.65, -0.73),
    (16.00, -0.725), (16.35, -0.72), (16.70, -0.73), (17.05, -0.725), (17.40, -0.72), (17.75, -0.73),
    (18.10, -0.725), (18.45, -0.72), (18.80, -0.73), (19.15, -0.725), (19.50, -0.72), (19.85, -0.73),
    (20.20, -0.725), (20.55, -0.72), (20.90, -0.73), (21.25, -0.725), (21.60, -0.72), (21.95, -0.73),
    (22.30, -0.725), (22.65, -0.72),
    (12.40, -0.77), (12.75, -0.74), (13.10, -0.78), (13.45, -0.75), (13.80, -0.77), (14.15, -0.74),
    (14.50, -0.78), (14.85, -0.75), (15.20, -0.77), (15.55, -0.74), (15.90, -0.78), (16.60, -0.77),
    (16.95, -0.74), (17.30, -0.78), (17.65, -0.75), (18.00, -0.77), (18.35, -0.74), (18.70, -0.78),
    (19.05, -0.75), (19.40, -0.77), (19.75, -0.74), (20.10, -0.78), (20.45, -0.75), (20.80, -0.77),
    (21.15, -0.74), (21.50, -0.78), (21.85, -0.75), (22.20, -0.77), (22.55, -0.74),
    (12.57, -0.76), (12.92, -0.765), (13.27, -0.76), (13.62, -0.765), (13.97, -0.76), (14.32, -0.765),
    (14.67, -0.76), (15.02, -0.765), (15.37, -0.76), (15.72, -0.765), (16.77, -0.76), (17.12, -0.765),
    (17.47, -0.76), (17.82, -0.765), (18.17, -0.76), (18.52, -0.765), (18.87, -0.76), (19.22, -0.765),
    (19.57, -0.76), (19.92, -0.765), (20.27, -0.76), (20.62, -0.765), (20.97, -0.76), (21.32, -0.765),
    (21.67, -0.76), (22.02, -0.765), (22.37, -0.76),
    (12.80, -0.795), (13.20, -0.79), (13.55, -0.80), (13.90, -0.795), (14.25, -0.79), (14.60, -0.80),
    (14.95, -0.795), (15.30, -0.79), (15.65, -0.80), (16.00, -0.795), (16.80, -0.79), (17.15, -0.80),
    (17.50, -0.795), (17.85, -0.79), (18.20, -0.80), (18.55, -0.795), (18.90, -0.79), (19.25, -0.80),
    (19.60, -0.795), (19.95, -0.79), (20.30, -0.80), (20.65, -0.795), (21.00, -0.79), (21.35, -0.80),
    (21.70, -0.795), (22.05, -0.79), (22.40, -0.80),
    (13.30, -0.84), (13.70, -0.81), (14.05, -0.85), (14.40, -0.82), (14.75, -0.84), (15.10, -0.81),
    (15.45, -0.85), (15.80, -0.82), (16.60, -0.84), (16.95, -0.81), (17.30, -0.85), (17.65, -0.82),
    (18.00, -0.84), (18.35, -0.81), (18.70, -0.85), (19.05, -0.82), (19.40, -0.84), (19.75, -0.81),
    (20.10, -0.85), (20.45, -0.82), (20.80, -0.84), (21.15, -0.81), (21.50, -0.85), (21.85, -0.82),
    (22.20, -0.84),
    (13.90, -0.865), (14.30, -0.86), (14.70, -0.87), (15.05, -0.865), (15.45, -0.86), (16.65, -0.87),
    (17.00, -0.865), (17.40, -0.86), (17.80, -0.87), (18.15, -0.865), (18.55, -0.86), (18.90, -0.87),
    (19.30, -0.865), (19.65, -0.86), (20.05, -0.87), (20.40, -0.865), (20.80, -0.86), (21.15, -0.87),
    (21.55, -0.865), (21.90, -0.86),
    (14.20, -0.91), (14.65, -0.88), (15.10, -0.92), (15.55, -0.89), (16.00, -0.91), (16.45, -0.88),
    (16.90, -0.92), (17.35, -0.89), (17.80, -0.91), (18.25, -0.88), (18.70, -0.92), (19.15, -0.89),
    (19.60, -0.91), (20.05, -0.88), (20.50, -0.92), (20.95, -0.89), (21.40, -0.91), (21.85, -0.88),
    (14.90, -0.935), (15.40, -0.93), (15.85, -0.94), (16.70, -0.935), (17.15, -0.93), (17.60, -0.94),
    (18.05, -0.935), (18.50, -0.93), (18.95, -0.94), (19.40, -0.935), (19.85, -0.93), (20.30, -0.94),
    (20.75, -0.935), (21.20, -0.93), (21.65, -0.94),
    (15.30, -0.97), (16.10, -0.99), (16.90, -0.96), (17.70, -0.98), (18.50, -0.96), (19.30, -0.99),
    (20.10, -0.97), (20.90, -0.98), (21.60, -0.96), (22.30, -0.99),
    (13.90, -0.50), (14.60, -0.49), (15.30, -0.51), (16.20, -0.50), (17.00, -0.49), (17.70, -0.51),
    (18.50, -0.49), (19.20, -0.51), (20.00, -0.50), (20.70, -0.49), (21.40, -0.50), (22.20, -0.51),
]

# the five selected halos A-E
names = ['A', 'B', 'C', 'D', 'E']
sel_z = [16.21, 20.47, 23.79, 18.39, 15.58]
sel_infall = [5.15e-3, 2.83e-3, 2.15e-3, 7.6e-4, 2.0e-4]
sel_mass = [990., 1100., 850., 127., 41.5]
sel_spin = [0.142, 0.161, 0.216, 0.233, 0.225]

colors = ['#1e6b1e', '#0000ff', '#000000', '#ff0000', '#b000c0']
markers = ['o', 'd', 's', '^', 'v']
green = '#44ff00'

fig, axes = plt.subplots(3, 1, figsize=(10.21, 12.46), dpi=100, sharex=True)
fig.subplots_adjust(left=0.148, right=0.986, top=0.9575, bottom=0.0666, hspace=0)

panels = [
    (infall, sel_infall, (1e-5, 1e-1), r'$\dot{M}_{\rm Jeans}\ [\ M_\odot/{\rm yr}\ ]$', '(a) infall rates', 0.963, 0.135),
    (mass, sel_mass, (3, 5e3), r'$M_{\rm Jeans}\ [\ M_\odot\ ]$', '(b) gas cloud mass', 0.954, 0.133),
    (spin, sel_spin, (1e-2, 0.5), r'$\lambda_{\rm gas}$', '(c) gas spin parameter', 0.992, 0.143),
]

for i, (ax, (pts, sel, ylim, ylab, tag, tx, ty)) in enumerate(zip(axes, panels)):
    pts = np.array(pts)
    ax.scatter(pts[:, 0], 10 ** pts[:, 1], s=50, c=green, lw=0, zorder=2)
    for j in range(len(names)):
        ax.plot(sel_z[j], sel[j], marker=markers[j], ms=25, color=colors[j],
                mec='#222222', mew=1.0, ls='none', zorder=3)
        if i == 0:
            ax.annotate(names[j], (sel_z[j], sel[j]), xytext=(-29, 8), textcoords='offset points',
                        ha='center', va='center', fontsize=26, color=colors[j], zorder=4)
    ax.set_yscale('log')
    ax.set_ylim(*ylim)
    ax.set_xlim(10, 30)
    ax.yaxis.set_minor_formatter(NullFormatter())
    ax.yaxis.set_major_locator(LogLocator(base=10, numticks=10))
    ax.set_ylabel(ylab, fontsize=25, labelpad=18)
    ax.text(tx, ty, tag, transform=ax.transAxes, ha='right', va='center', fontsize=27.5)
    ax.tick_params(which='both', direction='in', top=True, right=True, labelsize=18, width=1)
    ax.tick_params(which='major', length=9)
    ax.tick_params(which='minor', length=4.5)
    ax.tick_params(axis='x', pad=8)
    for sp in ax.spines.values():
        sp.set_linewidth(1.3)

axes[2].set_xticks([10, 15, 20, 25, 30])
axes[2].set_xlabel('redshifts', fontsize=25, labelpad=10)
axes[0].set_title('Jeans scale', fontsize=31)

fig.savefig('out.png', dpi=100)
